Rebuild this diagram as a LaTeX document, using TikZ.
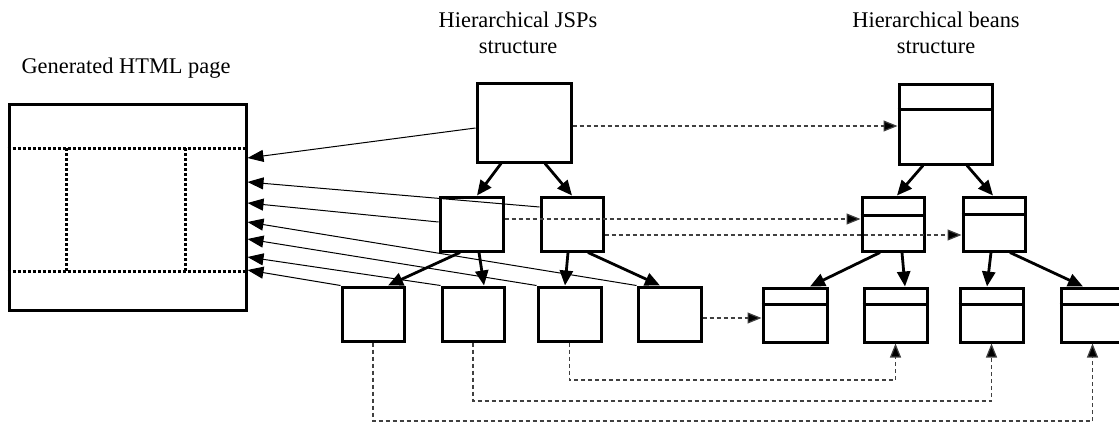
\documentclass[tikz,border=0pt]{standalone}
\usepackage{fontspec}
\setmainfont{Liberation Serif}
\usetikzlibrary{arrows.meta,fit}
\tikzset{
  box/.style={draw, line width=1.5pt, inner sep=0pt},
  divline/.style={line width=1.5pt},
  treearrow/.style={line width=1.4pt, -{Triangle[length=7.5pt,width=6.5pt]}},
  pagearrow/.style={line width=0.5pt, -{Triangle[length=8pt,width=6pt]}},
  dep/.style={line width=0.6pt, draw=black!75, dash pattern=on 2pt off 1.5pt, -{Triangle[length=7pt,width=5.5pt,fill=black]}},
  pagedot/.style={line width=1.5pt, dash pattern=on 1.5pt off 1pt},
  lbl/.style={align=center, font=\fontsize{11.2}{13}\selectfont, inner sep=0pt}
}
\begin{document}
\begin{tikzpicture}[x=0.5pt, y=-0.5pt]
\useasboundingbox (0,0) rectangle (1119,423);

% labels
\node[lbl] (tjsp) at (518,33) {Hierarchical JSPs\\structure};
\node[lbl] (tbean) at (936,33) {Hierarchical beans\\structure};
\node[lbl] (thtml) at (126,68) {Generated HTML page};

% HTML page
\node[box, fit={(9,104)(246,310)}] (html) {};
\draw[pagedot] (html.west |- 0,148) -- (html.east |- 0,148);
\draw[pagedot] (html.west |- 0,271) -- (html.east |- 0,271);
\draw[pagedot] (66,148) -- (66,271);
\draw[pagedot] (185,148) -- (185,271);

% JSP tree
\node[box, fit={(477,83)(571,162)}] (jt) {};
\node[box, fit={(440,197)(503,251)}] (jml) {};
\node[box, fit={(541,197)(603,251)}] (jmr) {};
\node[box, fit={(342,287)(404,341)}] (jb1) {};
\node[box, fit={(442,287)(504,341)}] (jb2) {};
\node[box, fit={(538,287)(601,341)}] (jb3) {};
\node[box, fit={(638,287)(701,341)}] (jb4) {};

% Bean tree
\node[box, fit={(899,84)(992,164)}] (bt) {};
\node[box, fit={(862,197)(924,251)}] (bml) {};
\node[box, fit={(963,197)(1025,251)}] (bmr) {};
\node[box, fit={(763,288)(827,342)}] (bb1) {};
\node[box, fit={(864,288)(927,342)}] (bb2) {};
\node[box, fit={(960,288)(1023,342)}] (bb3) {};
\node[box, fit={(1061,288)(1124,342)}] (bb4) {};
\draw[divline] (bt.west |- 0,109) -- (bt.east |- 0,109);
\draw[divline] (bml.west |- 0,215) -- (bml.east |- 0,215);
\draw[divline] (bmr.west |- 0,214) -- (bmr.east |- 0,214);
\foreach \b in {bb1,bb2,bb3,bb4}
  \draw[divline] (\b.west |- 0,304) -- (\b.east |- 0,304);

% JSP tree arrows
\draw[treearrow] (jt.south -| 501,0) -- (jml.north -| 477,0);
\draw[treearrow] (jt.south -| 545,0) -- (jmr.north -| 572,0);
\draw[treearrow] (jml.south -| 460,0) -- (jb1.north -| 388,0);
\draw[treearrow] (jml.south -| 479,0) -- (jb2.north -| 484,0);
\draw[treearrow] (jmr.south -| 568,0) -- (jb3.north -| 565,0);
\draw[treearrow] (jmr.south -| 588,0) -- (jb4.north -| 660,0);

% Bean tree arrows
\draw[treearrow] (bt.south -| 923,0) -- (bml.north -| 897,0);
\draw[treearrow] (bt.south -| 967,0) -- (bmr.north -| 993,0);
\draw[treearrow] (bml.south -| 880,0) -- (bb1.north -| 810,0);
\draw[treearrow] (bml.south -| 902,0) -- (bb2.north -| 905,0);
\draw[treearrow] (bmr.south -| 991,0) -- (bb3.north -| 987,0);
\draw[treearrow] (bmr.south -| 1010,0) -- (bb4.north -| 1083,0);

% JSP -> HTML page
\draw[pagearrow] (jt.west |- 0,128) -- (html.east |- 0,158);
\draw[pagearrow] (jmr.west |- 0,207) -- (html.east |- 0,182);
\draw[pagearrow] (jml.west |- 0,222) -- (html.east |- 0,203);
\draw[pagearrow] (jb4.north west) -- (html.east |- 0,222);
\draw[pagearrow] (jb3.north west) -- (html.east |- 0,239);
\draw[pagearrow] (jb2.north west) -- (html.east |- 0,257);
\draw[pagearrow] (jb1.north west) -- (html.east |- 0,270);

% JSP -> bean (dotted)
\draw[dep] (jt.east |- 0,126) -- (bt.west |- 0,126);
\draw[dep] (jml.east |- 0,219) -- (bml.west |- 0,219);
\draw[dep] (jmr.east |- 0,235) -- (bmr.west |- 0,235);
\draw[dep] (jb4.east |- 0,318) -- (bb1.west |- 0,318);
\draw[dep] (jb3.south) -- (jb3.south |- 0,380) -| (bb2.south);
\draw[dep] (jb2.south) -- (jb2.south |- 0,401) -| (bb3.south);
\draw[dep] (jb1.south) -- (jb1.south |- 0,421) -| (bb4.south);
\end{tikzpicture}
\end{document}
